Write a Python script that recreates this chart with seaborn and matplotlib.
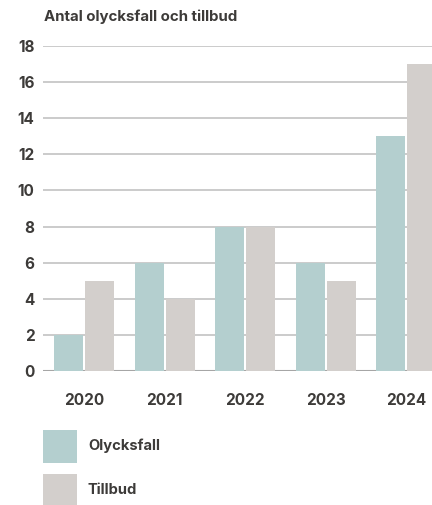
import matplotlib
matplotlib.use("Agg")
import matplotlib.pyplot as plt
import seaborn as sns
import pandas as pd
from matplotlib.patches import Rectangle

years = ["2020", "2021", "2022", "2023", "2024"]
olycksfall = [2, 6, 8, 6, 13]
tillbud = [5, 4, 8, 5, 17]
series_names = ["Olycksfall", "Tillbud"]
title = "Antal olycksfall och tillbud"
yticks = [0, 2, 4, 6, 8, 10, 12, 14, 16, 18]

colors = ["#b4cfcf", "#d3cfcc"]
text_color = "#3d3b39"

df = pd.DataFrame({
    "year": years * 2,
    "value": olycksfall + tillbud,
    "series": [series_names[0]] * len(years) + [series_names[1]] * len(years),
})

sns.set_theme(style="white")
plt.rcParams["font.family"] = ["Inter", "DejaVu Sans"]

W, H = 432, 505
fig = plt.figure(figsize=(W / 100, H / 100), dpi=100)
ax = fig.add_axes([43 / W, 134 / H, 1 - 43 / W, (459 - 134) / H])

sns.barplot(data=df, x="year", y="value", hue="series", palette=colors,
            width=0.77, gap=0.06, ax=ax, legend=False, zorder=2, saturation=1,
            linewidth=0, edgecolor="none")

ax.set_ylim(0, 18)
ax.set_xlim(-0.51, 4.32)
ax.set_yticks(yticks)
ax.grid(axis="y", color="#c2c2c2", linewidth=1.2, zorder=0)
ax.set_axisbelow(True)
ax.axhline(0, color="#a6a6a6", linewidth=1.5, zorder=1)
for s in ax.spines.values():
    s.set_visible(False)
ax.set_xlabel("")
ax.set_ylabel("")
ax.tick_params(axis="both", length=0, labelsize=11, labelcolor=text_color)
ax.tick_params(axis="x", pad=16)
ax.tick_params(axis="y", pad=6)
for lab in ax.get_xticklabels() + ax.get_yticklabels():
    lab.set_fontweight("bold")

fig.text(44 / W, 1 - 17 / H, title, fontsize=10.8, fontweight="bold",
         color=text_color, ha="left", va="center")

# legend
leg_top = [430, 474]
for name, c, top in zip(series_names, colors, leg_top):
    fig.patches.append(Rectangle((43 / W, 1 - (top + 33) / H), 34 / W, 33 / H,
                                 transform=fig.transFigure, facecolor=c,
                                 edgecolor="none", figure=fig))
    fig.text(88 / W, 1 - (top + 16) / H, name, fontsize=10.6, fontweight="bold",
             color=text_color, ha="left", va="center")

fig.savefig("out.png", dpi=100)
